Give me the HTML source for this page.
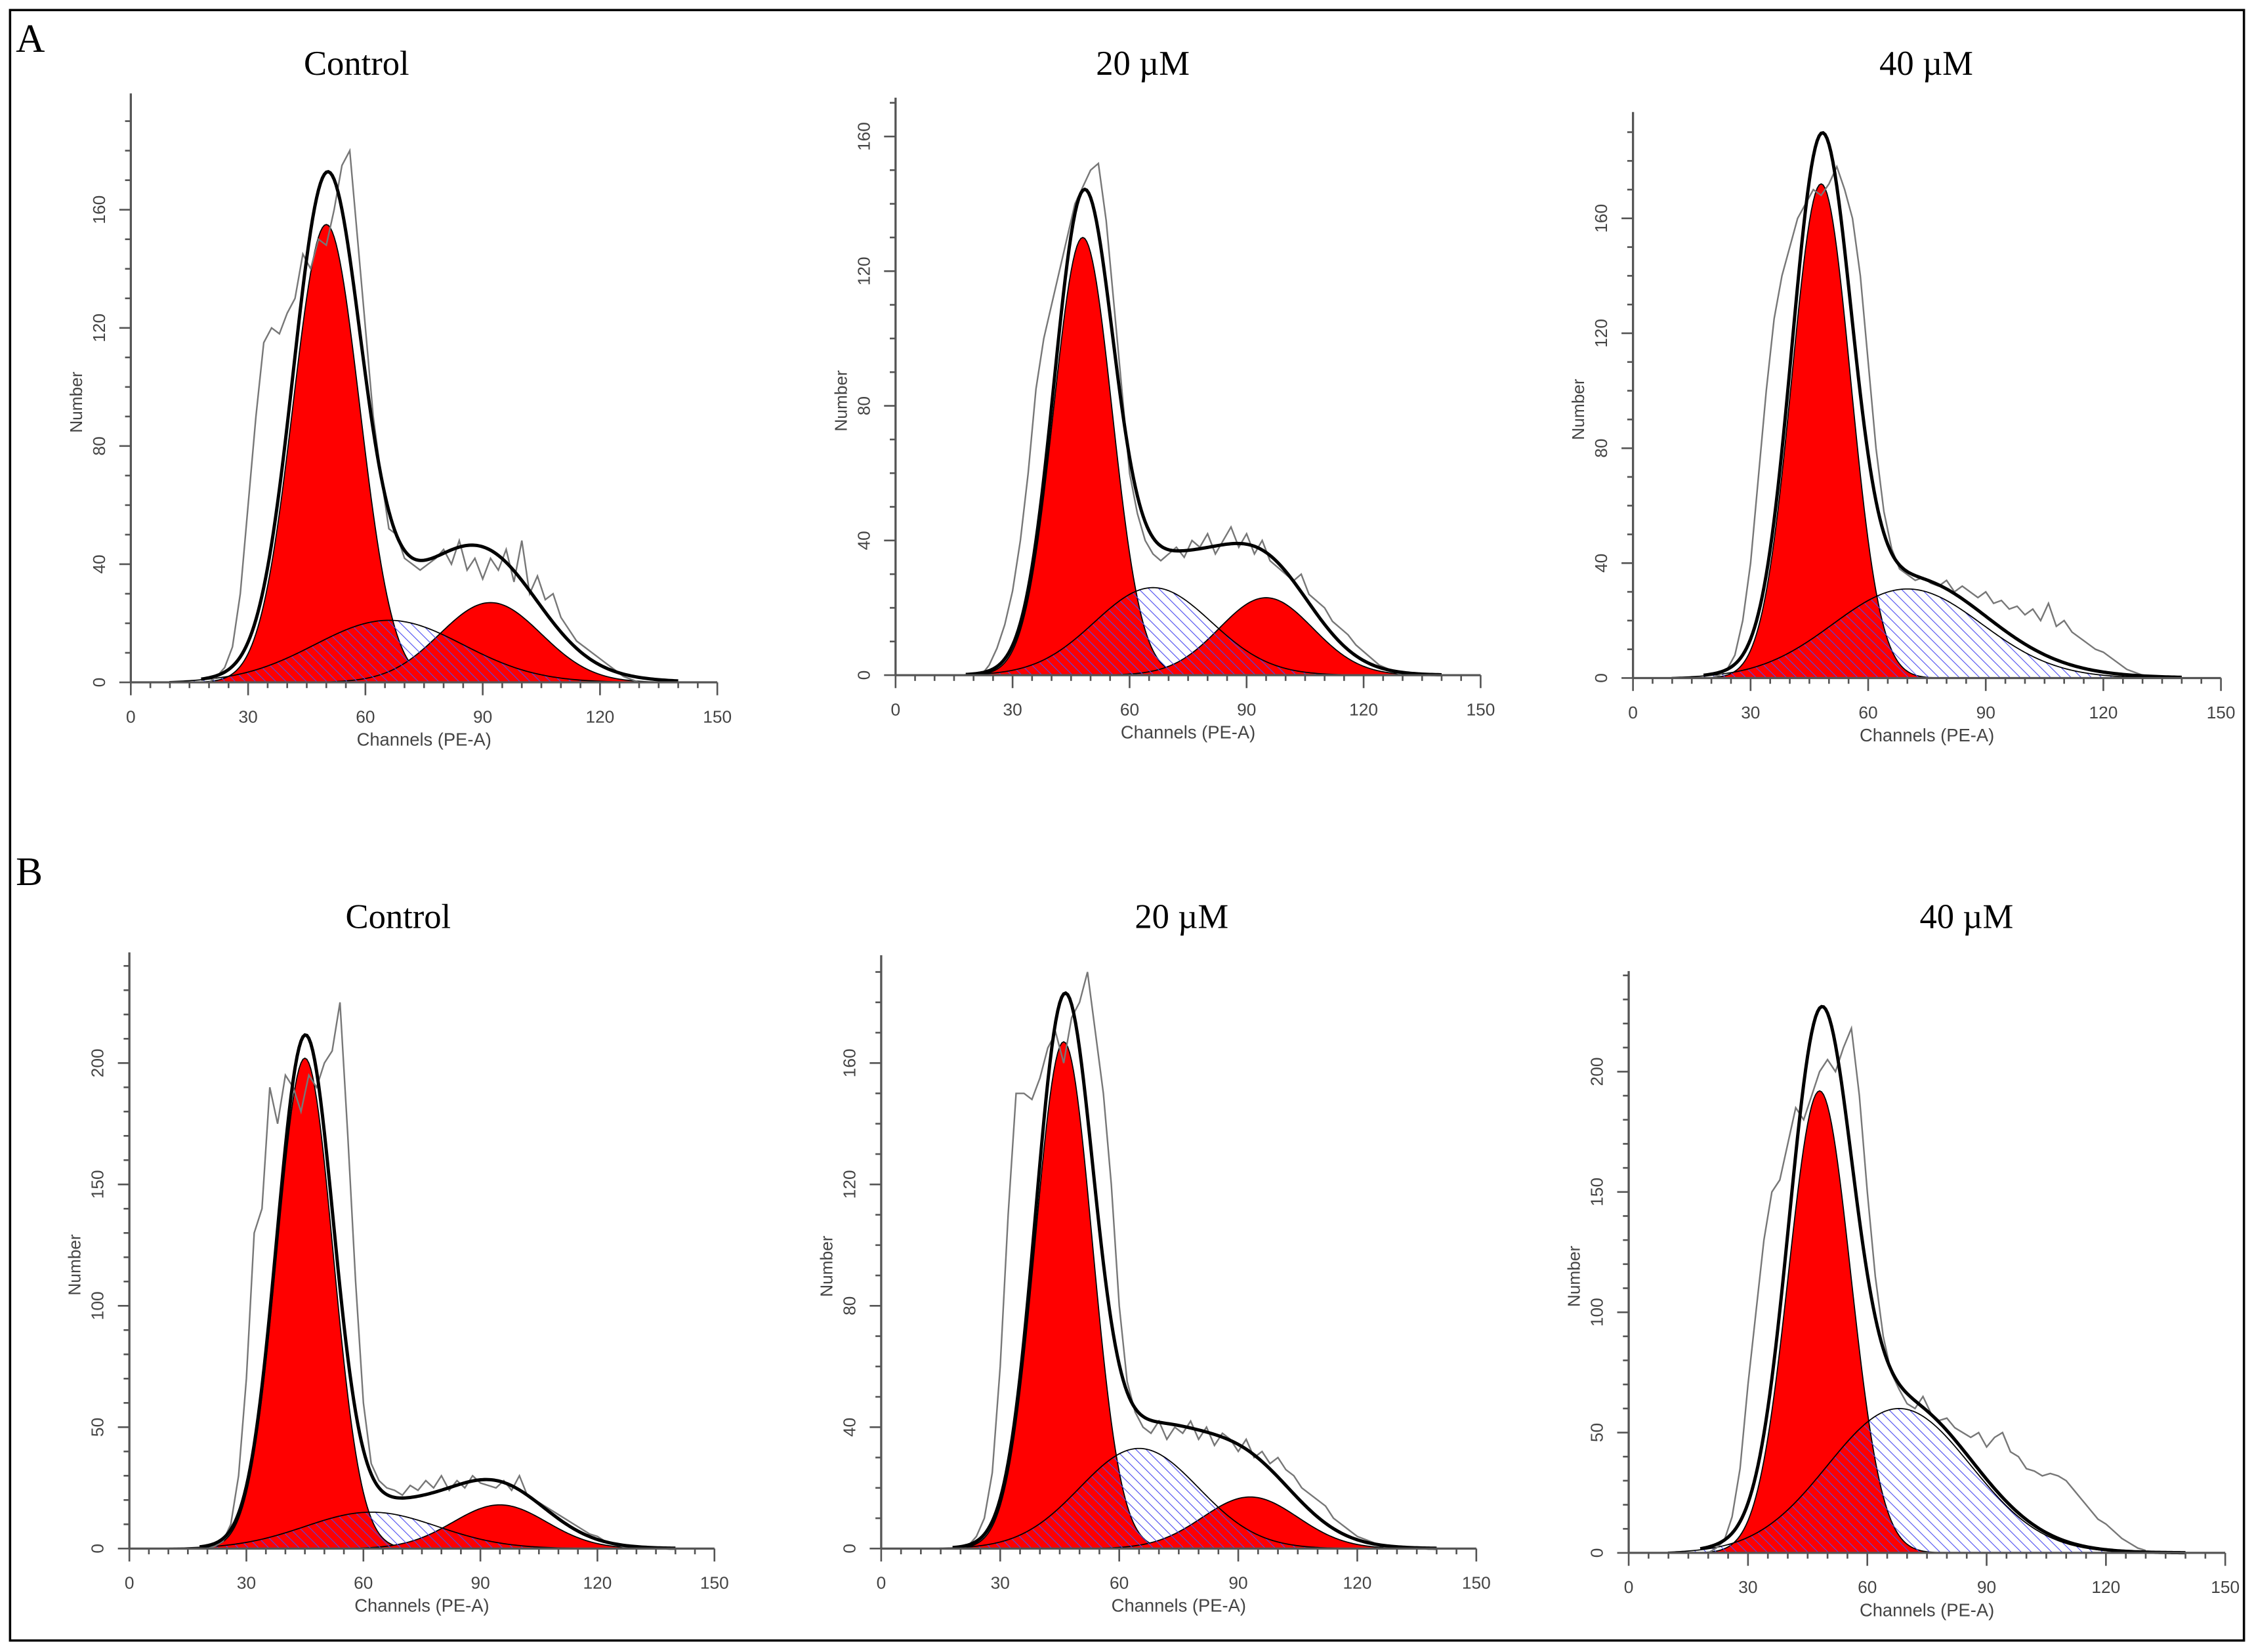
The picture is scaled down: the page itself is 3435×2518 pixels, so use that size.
<!DOCTYPE html>
<html><head><meta charset="utf-8"><style>
html,body{margin:0;padding:0;background:#fff}
svg{display:block}
</style></head><body>
<svg id="fig" xmlns="http://www.w3.org/2000/svg" width="3435" height="2518" viewBox="0 0 1568 1150" preserveAspectRatio="none">
<defs>
<pattern id="hatch" patternUnits="userSpaceOnUse" width="5" height="5" patternTransform="rotate(-45)">
<line x1="0" y1="0" x2="0" y2="5" stroke="#4a4af0" stroke-width="1"/>
</pattern>
</defs>
<rect x="7" y="7" width="1554" height="1135" fill="none" stroke="#000" stroke-width="1.6"/>
<text x="11" y="36" font-family="Liberation Serif, serif" font-size="28">A</text>
<text x="11" y="616" font-family="Liberation Serif, serif" font-size="28">B</text>
<g id="plots"></g>
</svg>
<script>
// channel categories (x) for raw histograms
const channels = [20,22,24,26,28,30,32,34,36,38,40,42,44,46,48,50,52,54,56,58,60,62,64,66,68,70,72,74,76,78,80,82,84,86,88,90,92,94,96,98,100,102,104,106,108,110,112,114,116,118,120,122,124,126,128,130];
// raw histogram counts per panel
const rawA1 = [0,2,5,12,30,60,90,115,120,118,125,130,145,140,150,148,160,175,180,150,120,90,70,52,50,42,40,38,40,42,45,40,48,38,42,35,42,38,45,34,48,30,36,28,30,22,18,14,12,10,8,6,4,2,1,0];
const rawA2 = [0,0,3,8,15,25,40,60,85,100,110,120,130,140,145,150,152,135,110,85,60,48,40,36,34,36,38,35,40,38,42,36,40,44,38,42,36,40,34,32,30,28,30,24,22,20,16,14,12,9,7,5,3,2,1,0];
const rawA3 = [0,1,3,8,20,40,70,100,125,140,150,160,165,170,168,172,178,170,160,140,110,80,58,45,38,36,34,35,33,32,34,30,32,30,28,30,26,27,24,25,22,24,20,26,18,20,16,14,12,10,9,7,5,3,2,1];
const rawB1 = [0,1,3,10,30,70,130,140,190,175,195,190,180,195,190,200,205,225,170,110,60,35,28,25,24,22,26,24,28,25,30,24,28,25,30,27,26,25,28,24,30,22,20,18,16,14,12,10,8,6,5,3,2,1,0,0];
const rawB2 = [0,1,4,10,25,60,110,150,150,148,155,165,170,160,175,180,190,170,150,120,80,55,45,40,38,42,36,40,38,42,36,40,34,38,36,32,36,30,32,28,30,26,24,20,18,16,14,10,8,6,4,3,2,1,0,0];
const rawB3 = [0,2,5,15,35,70,100,130,150,155,170,185,180,190,200,205,200,210,218,190,150,115,90,75,68,62,60,65,58,55,56,52,50,48,50,44,48,50,42,40,35,34,32,33,32,30,26,22,18,14,12,9,6,4,2,1];
// model components per panel: [mean, height, sd]
const g1Params = [[50,155,8.5],[48,130,7.5],[48,172,7.5],[45,202,7.2],[46,167,7.2],[48,192,7.8]];
const g2Params = [[92,27,13],[95,23,12],[95,0,11],[95,18,12],[93,17,12],[95,0,11]];
const sParams  = [[66,21,19],[66,26,15],[70,31,19],[62,15,17],[65,33,15],[68,60,18]];
const bgParams = [[85,10,22],[85,11,18],[80,4,25],[88,8,18],[85,10,18],[70,3,25]];
const panelTitles = ["Control","20 µM","40 µM","Control","20 µM","40 µM"];
const yTickLabels = [[0,40,80,120,160],[0,40,80,120,160],[0,40,80,120,160],[0,50,100,150,200],[0,40,80,120,160],[0,50,100,150,200]];
const xTickLabels = [0,30,60,90,120,150];
const rawSeries = [rawA1,rawA2,rawA3,rawB1,rawB2,rawB3];

// layout (pixel geometry, display coords)
const layout = [
 {x0:91,x1:499,y0:475,top:65,ref:160,refY:146,tx:248,ty:52},
 {x0:623,x1:1030,y0:470,top:68,ref:160,refY:95,tx:795,ty:52},
 {x0:1136,x1:1545,y0:472,top:78,ref:160,refY:152,tx:1340,ty:52},
 {x0:90,x1:497,y0:1078,top:663,ref:200,refY:740,tx:277,ty:646},
 {x0:613,x1:1027,y0:1078,top:665,ref:160,refY:740,tx:822,ty:646},
 {x0:1133,x1:1548,y0:1081,top:676,ref:200,refY:746,tx:1368,ty:646}
];
const NS="http://www.w3.org/2000/svg";
const root=document.getElementById('plots');
function mk(tag,attrs,parent){const e=document.createElementNS(NS,tag);for(const k in attrs)e.setAttribute(k,attrs[k]);parent.appendChild(e);return e;}
function gauss(p,c){return p[1]*Math.exp(-((c-p[0])*(c-p[0]))/(2*p[2]*p[2]));}

layout.forEach((L,i)=>{
  const g=mk('g',{},root);
  
  
  const xs=c=>L.x0+(L.x1-L.x0)*c/150;
  const pu=(L.y0-L.refY)/L.ref;
  const ys=v=>L.y0-v*pu;
  const t=mk('text',{x:L.tx,y:L.ty,'text-anchor':'middle','font-family':'Liberation Serif, serif','font-size':'24'},g);
  t.textContent=panelTitles[i];
  
  
  const step=0.5;
  function areaPath(p){let d='M'+xs(10)+','+ys(0);for(let c=10;c<=145;c+=step){d+=' L'+xs(c).toFixed(2)+','+ys(gauss(p,c)).toFixed(2);}return d+' L'+xs(145)+','+ys(0)+' Z';}
  function linePath(f){let d='';for(let c=18;c<=140;c+=step){d+=(d?' L':'M')+xs(c).toFixed(2)+','+ys(f(c)).toFixed(2);}return d;}
  const s=sParams[i], a=g1Params[i], b=g2Params[i], bg=bgParams[i];
  const g1=mk('path',{d:areaPath(a),fill:'#ff0000',stroke:'#000','stroke-width':'0.8'},g);
  
  
  if(b[1]>0){const g2=mk('path',{d:areaPath(b),fill:'#ff0000',stroke:'#000','stroke-width':'0.8'},g);
  
  }
  const sp=mk('path',{d:areaPath(s),fill:'url(#hatch)',stroke:'#000','stroke-width':'0.8'},g);
  
  
  let rd='';channels.forEach((c,k)=>{rd+=(k?' L':'M')+xs(c).toFixed(2)+','+ys(rawSeries[i][k]).toFixed(2);});
  const raw=mk('path',{d:rd,fill:'none',stroke:'#777','stroke-width':'1.1'},g);
  
  
  const fit=mk('path',{d:linePath(c=>gauss(a,c)+gauss(b,c)+gauss(s,c)+gauss(bg,c)),fill:'none',stroke:'#000','stroke-width':'2.3'},g);
  
  
  const xa=mk('line',{x1:L.x0,y1:L.y0,x2:L.x1,y2:L.y0,stroke:'#555','stroke-width':'1.5'},g);
  
  
  const ya=mk('line',{x1:L.x0,y1:L.y0,x2:L.x0,y2:L.top,stroke:'#555','stroke-width':'1.5'},g);
  
  
  for(let c=0;c<=150;c+=5){const maj=c%30===0;mk('line',{x1:xs(c),y1:L.y0,x2:xs(c),y2:L.y0+(maj?9:4),stroke:'#555','stroke-width':'1.2'},g);}
  xTickLabels.forEach(v=>{const tl=mk('text',{x:xs(v),y:L.y0+28,'text-anchor':'middle','font-family':'Liberation Sans, sans-serif','font-size':'12',fill:'#444'},g);tl.textContent=v;
    
    });
  const yt=yTickLabels[i];const mstep=10;
  for(let v=0;ys(v)>=L.top;v+=mstep){const maj=yt.indexOf(v)>=0;mk('line',{x1:L.x0,y1:ys(v),x2:L.x0-(maj?8:4),y2:ys(v),stroke:'#555','stroke-width':'1.2'},g);}
  yt.forEach(v=>{const y=ys(v);const tl=mk('text',{x:L.x0-18,y:y,'text-anchor':'middle','font-family':'Liberation Sans, sans-serif','font-size':'12',fill:'#444',transform:'rotate(-90 '+(L.x0-18)+' '+y+')'},g);tl.textContent=v;
    
    });
  const xl=mk('text',{x:(L.x0+L.x1)/2,y:L.y0+44,'text-anchor':'middle','font-family':'Liberation Sans, sans-serif','font-size':'12.5',fill:'#444'},g);
  xl.textContent='Channels (PE-A)';
  
  
  const ly=(L.y0+L.top)/2+10;
  const yl=mk('text',{x:L.x0-34,y:ly,'text-anchor':'middle','font-family':'Liberation Sans, sans-serif','font-size':'12',fill:'#444',transform:'rotate(-90 '+(L.x0-34)+' '+ly+')'},g);
  yl.textContent='Number';
  
  
});
</script>
</body></html>
